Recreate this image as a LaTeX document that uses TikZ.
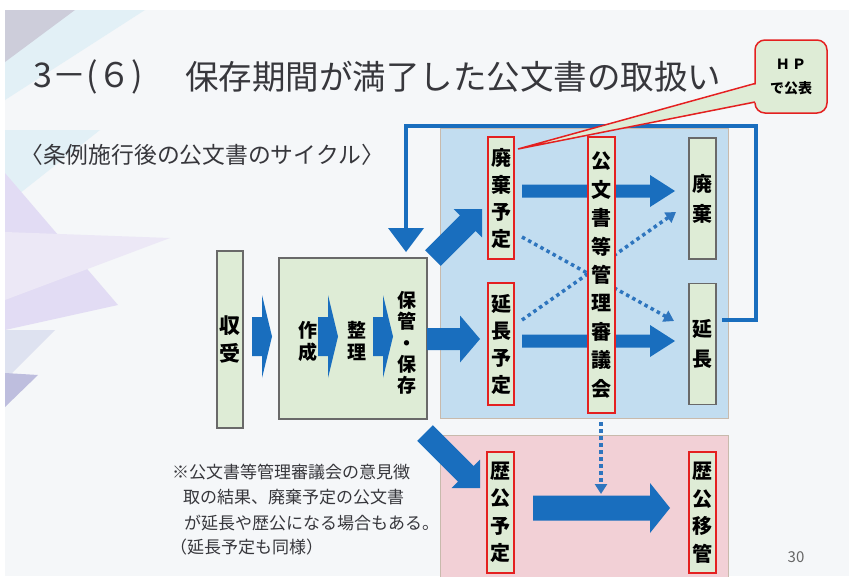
\documentclass[tikz,border=0pt]{standalone}
\usepackage{fontspec}
\setmainfont{Noto Sans CJK JP}
\usetikzlibrary{calc,arrows.meta}
\definecolor{arrowblue}{RGB}{25,110,190}
\definecolor{dotblue}{RGB}{46,117,190}
\definecolor{regionblue}{RGB}{194,221,240}
\definecolor{regionpink}{RGB}{242,208,214}
\definecolor{regionedge}{RGB}{200,186,172}
\definecolor{boxgreen}{RGB}{222,236,214}
\definecolor{boxgray}{RGB}{105,105,105}
\definecolor{boxred}{RGB}{228,32,32}
\definecolor{slidebg}{RGB}{245,247,249}
\definecolor{titlegray}{RGB}{55,55,60}
\definecolor{decocyan}{RGB}{226,240,246}
\definecolor{decogray}{RGB}{205,205,218}
\definecolor{decolav}{RGB}{226,220,244}
\definecolor{decolav2}{RGB}{236,232,246}
\definecolor{decoblue}{RGB}{222,226,240}
\definecolor{decodark}{RGB}{190,190,222}
\newcommand\blockarrow[5]{%
  \coordinate (ba-h) at ($(#2)!#5!(#1)$);
  \fill[arrowblue] ($(#1)!#3!90:(#2)$) -- ($(ba-h)!#3!90:(#2)$) -- ($(ba-h)!#4!90:(#2)$) -- (#2)
    -- ($(ba-h)!#4!-90:(#2)$) -- ($(ba-h)!#3!-90:(#2)$) -- ($(#1)!#3!-90:(#2)$) -- cycle;}
\begin{document}
\begin{tikzpicture}[x=1pt,y=-1pt,
  region/.style={draw=regionedge, line width=1pt},
  greenbox/.style={draw=boxgray, fill=boxgreen, line width=1.2pt, inner sep=0pt, align=center,
    font=\bfseries\fontsize{20}{30}\selectfont},
  redbox/.style={draw=boxred, fill=boxgreen, line width=1.5pt, inner sep=0pt, align=center,
    font=\bfseries\fontsize{20}{27}\selectfont},
  vlabel/.style={inner sep=0pt, align=center, font=\bfseries\fontsize{19}{22}\selectfont},
  dotarrow/.style={dotblue, line width=3.5pt, dash pattern=on 3.5pt off 3.5pt,
    -{Triangle[length=10pt,width=12pt]}},
  loopline/.style={arrowblue, line width=4pt},
  note/.style={anchor=west, inner sep=0pt, font=\fontsize{17}{20}\selectfont, text=titlegray}]
\useasboundingbox (0,0) rectangle (849,576);
% background
\fill[white] (0,0) rectangle (849,576);
\fill[slidebg] (5,10) rectangle (849,576);
\fill[decocyan] (5,10) -- (145,10) -- (5,100) -- cycle;
\fill[decogray] (5,10) -- (75,10) -- (5,62) -- cycle;
\fill[decocyan] (5,130) -- (100,130) -- (5,205) -- cycle;
\fill[decolav] (5,173) -- (118,305) -- (5,330) -- cycle;
\fill[decolav2] (5,232) -- (170,238) -- (5,300) -- cycle;
\fill[decoblue] (5,330) -- (55,330) -- (5,380) -- cycle;
\fill[decodark] (5,373) -- (38,375) -- (5,407) -- cycle;
% title
\node[anchor=west, inner sep=0pt, text=titlegray, font=\fontsize{34}{40}\selectfont] (num) at (33,77) {3－(６)};
\node[anchor=west, inner sep=0pt, text=titlegray, font=\fontsize{33.5}{40}\selectfont] (title) at (185,77) {保存期間が満了した公文書の取扱い};
\node[anchor=west, inner sep=0pt, text=titlegray, font=\fontsize{22.8}{26}\selectfont] (sub) at (20,155) {〈条例施行後の公文書のサイクル〉};
% regions
\fill[regionblue] (440,128) rectangle (728,418);
\draw[region] (440,128) rectangle (728,418);
\fill[regionpink] (440,435) rectangle (728,582);
\draw[region] (440,435) rectangle (728,582);
% loop line
\coordinate (l0) at (722,320);
\coordinate (l1) at (756,320);
\coordinate (l2) at (756,126);
\coordinate (l3) at (406,126);
\coordinate (l4) at (406,230);
\draw[loopline] (l0) -- (l1) -- (l2) -- (l3) -- (l4);
\fill[arrowblue] (388,228) -- (424,228) -- (406,252) -- cycle;
% left boxes
\node[greenbox, minimum width=26pt, minimum height=177pt, font=\bfseries\fontsize{21}{28}\selectfont] (shuju) at (230,339.5) {収\\受};
\node[draw=boxgray, fill=boxgreen, line width=1.2pt, minimum width=148pt, minimum height=161pt] (big) at (353,338.5) {};
\node[vlabel] (sakusei) at (308,341) {作\\成};
\node[vlabel] (seiri) at (357,341) {整\\理};
\node[vlabel, font=\bfseries\fontsize{19}{21.3}\selectfont] (hokan) at (407,343) {保\\管\\・\\保\\存};
% block arrows
\coordinate (a1s) at (252,336.5); \coordinate (a1t) at (272,336.5);
\coordinate (a2s) at (318,336.5); \coordinate (a2t) at (338,336.5);
\coordinate (a3s) at (373,336.5); \coordinate (a3t) at (393,336.5);
\blockarrow{a1s}{a1t}{19.5pt}{41.5pt}{10pt}
\blockarrow{a2s}{a2t}{19.5pt}{41.5pt}{10pt}
\blockarrow{a3s}{a3t}{19.5pt}{41.5pt}{10pt}
\coordinate (b1s) at (433,258); \coordinate (b1t) at (482,209);
\coordinate (b2s) at (427,339); \coordinate (b2t) at (480,339);
\coordinate (b3s) at (425,433); \coordinate (b3t) at (480,488);
\blockarrow{b1s}{b1t}{11pt}{20pt}{20pt}
\blockarrow{b2s}{b2t}{11pt}{23.5pt}{20pt}
\blockarrow{b3s}{b3t}{11pt}{20pt}{20pt}
\coordinate (c1s) at (522,191); \coordinate (c1t) at (675,191);
\coordinate (c2s) at (522,341); \coordinate (c2t) at (675,341);
\coordinate (c3s) at (533,508); \coordinate (c3t) at (670,508);
\blockarrow{c1s}{c1t}{6.5pt}{16pt}{25pt}
\blockarrow{c2s}{c2t}{6.5pt}{16pt}{25pt}
\blockarrow{c3s}{c3t}{12.5pt}{25pt}{20pt}
% dotted arrows
\coordinate (d1s) at (522,237); \coordinate (d1t) at (674,321);
\coordinate (d2s) at (522,320); \coordinate (d2t) at (676,212);
\coordinate (d3s) at (601,422); \coordinate (d3t) at (601,494);
\draw[dotarrow] (d1s) -- (d1t);
\draw[dotarrow] (d2s) -- (d2t);
\draw[dotarrow] (d3s) -- (d3t);
% boxes in regions
\node[redbox, minimum width=26pt, minimum height=122pt] (haikiyotei) at (501,198) {廃\\棄\\予\\定};
\node[redbox, minimum width=26pt, minimum height=122pt] (enchoyotei) at (501,344) {延\\長\\予\\定};
\node[redbox, minimum width=27pt, minimum height=276pt, font=\bfseries\fontsize{20}{28.4}\selectfont] (shingikai) at (601.5,275) {公\\文\\書\\等\\管\\理\\審\\議\\会};
\node[greenbox, minimum width=27pt, minimum height=121pt] (haiki) at (702.5,198.5) {廃\\棄};
\node[greenbox, minimum width=27pt, minimum height=121pt] (encho) at (702.5,344) {延\\長};
\node[redbox, minimum width=27pt, minimum height=121pt, font=\bfseries\fontsize{20}{27.5}\selectfont] (rekiyotei) at (500.5,512.5) {歴\\公\\予\\定};
\node[redbox, minimum width=27pt, minimum height=121pt, font=\bfseries\fontsize{20}{27.5}\selectfont] (rekiiko) at (702.5,512.5) {歴\\公\\移\\管};
% callout
\node[draw=boxred, fill=boxgreen, line width=1.5pt, rounded corners=10pt, minimum width=72pt, minimum height=73pt,
  align=center, inner sep=0pt, font=\bfseries\fontsize{14}{24}\selectfont] (hp) at (791,76.5) {Ｈ\,Ｐ\\で公表};
\coordinate (tip) at (518,149);
\coordinate (tu) at (755,83.5);
\coordinate (tl) at (755,102);
\fill[boxgreen] (tip) -- ($(tu)+(4,0)$) -- ($(tl)+(4,0)$) -- cycle;
\draw[boxred, line width=1.5pt] (tu) -- (tip) -- (tl);
% note
\node[note] (n1) at (172,472) {※公文書等管理審議会の意見徴};
\node[note] (n2) at (183,497) {取の結果、廃棄予定の公文書};
\node[note] (n3) at (184,523) {が延長や歴公になる場合もある。};
\node[note] (n4) at (170,547) {（延長予定も同様）};
\node[inner sep=0pt, text=gray!80!black, font=\fontsize{15}{18}\selectfont] (page) at (796,557) {30};
\end{tikzpicture}
\end{document}
